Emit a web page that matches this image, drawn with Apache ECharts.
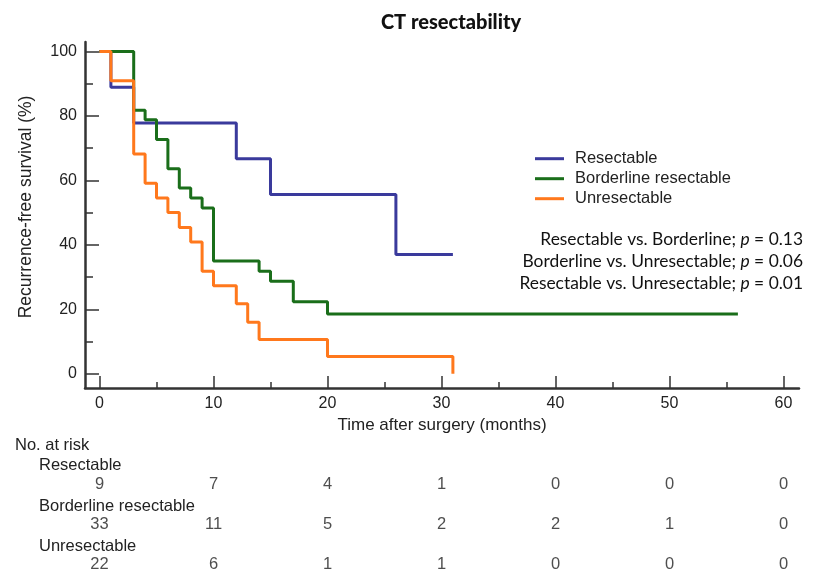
<!DOCTYPE html>
<html>
<head>
<meta charset="utf-8">
<script src="https://cdn.jsdelivr.net/npm/echarts@6/dist/echarts.min.js"></script>
<style>
  html, body { margin: 0; padding: 0; background: #fff; }
  #main { width: 817px; height: 575px; }
</style>
</head>
<body>
<div id="main"></div>
<script>
// ---------- data ----------
const groupNames = ["Resectable", "Borderline resectable", "Unresectable"];
const colors = ["#3a3a9c", "#1a6e1a", "#ff781c"];

// Kaplan-Meier steps: time (months) -> survival (%) after the drop
const resectTime = [0, 1, 3, 12, 15, 26, 31];
const resectSurv = [100, 88.9, 77.8, 66.7, 55.6, 37.0, 37.0];

const borderTime = [0, 3, 4, 5, 6, 7, 8, 9, 10, 14, 15, 17, 20, 56];
const borderSurv = [100, 81.8, 78.8, 72.7, 63.6, 57.6, 54.5, 51.4, 35.0, 31.8, 28.7, 22.3, 18.5, 18.5];

const unresTime = [0, 1, 3, 4, 5, 6, 7, 8, 9, 10, 12, 13, 14, 20, 31, 31];
const unresSurv = [100, 90.9, 68.2, 59.1, 54.5, 50, 45.4, 40.9, 31.8, 27.3, 21.7, 16.0, 10.6, 5.3, 5.3, 0];

// axis ticks
const xMajor = [0, 10, 20, 30, 40, 50, 60];
const xMinor = [5, 15, 25, 35, 45, 55];
const yMajor = [0, 20, 40, 60, 80, 100];
const yMinor = [10, 30, 50, 70, 90];

// number at risk table
const riskTimes = [0, 10, 20, 30, 40, 50, 60];
const riskResect = [9, 7, 4, 1, 0, 0, 0];
const riskBorder = [33, 11, 5, 2, 2, 1, 0];
const riskUnres = [22, 6, 1, 1, 0, 0, 0];

const pTexts = [
  ["Resectable vs. Borderline; ", "0.13"],
  ["Borderline vs. Unresectable; ", "0.06"],
  ["Resectable vs. Unresectable; ", "0.01"]
];

// ---------- helpers ----------
const FONT = "'Liberation Sans', Arial, sans-serif";
const CAL = "Lato, 'Open Sans', sans-serif";
const AXIS_COLOR = "#333";
// axis range is a bit wider than the data so the axis lines overhang like the original
const X_RANGE = [-1.272, 61.36];
const Y_RANGE = [-4.44, 102.95];
const zip = (xs, ys) => xs.map((x, i) => [x, ys[i]]);
const hidden = { show: false };

function kmSeries(name, xs, ys, color) {
  return {
    name, type: "line", step: "end", xAxisIndex: 0, yAxisIndex: 0,
    data: zip(xs, ys), showSymbol: false, symbol: "none",
    lineStyle: { color, width: 3 }, itemStyle: { color },
    clip: false, animation: false, z: 3
  };
}

function riskSeries(row, counts) {
  return {
    type: "scatter", xAxisIndex: 2, yAxisIndex: 2,
    data: riskTimes.map((t, i) => [t, row, counts[i]]),
    symbolSize: 1, itemStyle: { color: "rgba(0,0,0,0)" }, silent: true, animation: false,
    label: {
      show: true, position: "inside", color: "#222", fontSize: 16.5, fontFamily: FONT,
      formatter: p => String(p.value[2])
    }
  };
}

// main axis: line + major ticks + labels
function majorAxis(range, ticks, len, extra) {
  return Object.assign({
    gridIndex: 0, type: "value", min: range[0], max: range[1],
    axisLine: { show: true, onZero: false, lineStyle: { color: AXIS_COLOR, width: 2.5 } },
    axisTick: { show: true, inside: true, length: len, customValues: ticks, lineStyle: { color: AXIS_COLOR, width: 1.5 } },
    axisLabel: { show: true, customValues: ticks, color: "#222", fontSize: 16, fontFamily: FONT },
    splitLine: hidden
  }, extra);
}

// second axis on same side, only the short minor ticks
function minorAxis(range, ticks, len, position) {
  return {
    gridIndex: 0, type: "value", min: range[0], max: range[1], position,
    axisLine: { show: false, onZero: false }, axisLabel: hidden, splitLine: hidden,
    axisTick: { show: true, inside: true, length: len, customValues: ticks, lineStyle: { color: AXIS_COLOR, width: 1.5 } }
  };
}

// ---------- chart ----------
const chart = echarts.init(document.getElementById("main"));

const option = {
  backgroundColor: "#fff",
  animation: false,
  title: {
    text: "CT resectability", left: 446, top: 8, textAlign: "center",
    textStyle: { fontFamily: CAL, fontWeight: 900, fontSize: 20, color: "#111" }
  },
  legend: {
    orient: "vertical", left: 535, top: 148.7, padding: 0, itemGap: 0,
    icon: "rect", itemWidth: 29, itemHeight: 3,
    data: groupNames,
    textStyle: { fontFamily: FONT, fontSize: 16.5, color: "#222", lineHeight: 20, padding: [0, 0, 0, 6] }
  },
  grid: [
    { left: 85, right: 18, top: 42, bottom: 187 },      // plot
    { left: 85, right: 18, top: 42, bottom: 187 },      // unused spare
    { left: 85, right: 18, top: 484, bottom: 11 }       // risk table
  ],
  xAxis: [
    majorAxis(X_RANGE, xMajor, 12, {
      position: "bottom",
      name: "Time after surgery (months)", nameLocation: "middle", nameGap: 29,
      nameTextStyle: { color: "#222", fontSize: 17, fontFamily: FONT }
    }),
    minorAxis(X_RANGE, xMinor, 6, "bottom"),
    { gridIndex: 2, type: "value", min: X_RANGE[0], max: X_RANGE[1], show: false }
  ],
  yAxis: [
    majorAxis(Y_RANGE, yMajor, 14, {
      position: "left",
      name: "Recurrence-free survival (%)", nameLocation: "middle", nameGap: 50,
      nameTextStyle: { color: "#222", fontSize: 17.5, fontFamily: FONT, padding: [0, 0, 0, 16] }
    }),
    minorAxis(Y_RANGE, yMinor, 8, "left"),
    { gridIndex: 2, type: "value", min: 0, max: 2, inverse: true, show: false }
  ],
  series: [
    kmSeries(groupNames[0], resectTime, resectSurv, colors[0]),
    kmSeries(groupNames[1], borderTime, borderSurv, colors[1]),
    kmSeries(groupNames[2], unresTime, unresSurv, colors[2]),
    riskSeries(0, riskResect),
    riskSeries(1, riskBorder),
    riskSeries(2, riskUnres)
  ],
  graphic: [
    // p values, right aligned
    ...pTexts.map((p, i) => ({
      type: "text", right: 14, top: 231 + i * 22,
      style: {
        text: "{a|" + p[0] + "}{i|p}{a| = " + p[1] + "}",
        rich: {
          a: { fontFamily: CAL, fontSize: 17.4, fill: "#111" },
          i: { fontFamily: CAL, fontSize: 17.4, fill: "#111", fontStyle: "italic" }
        }
      }
    })),
    // risk table row labels
    { type: "text", left: 15, top: 437, style: { text: "No. at risk", font: "16.5px " + FONT, fill: "#222" } },
    ...groupNames.map((g, i) => ({
      type: "text", left: 39, top: 457 + i * 40.5,
      style: { text: g, font: "16.5px " + FONT, fill: "#222" }
    }))
  ]
};

chart.setOption(option);
</script>
</body>
</html>
